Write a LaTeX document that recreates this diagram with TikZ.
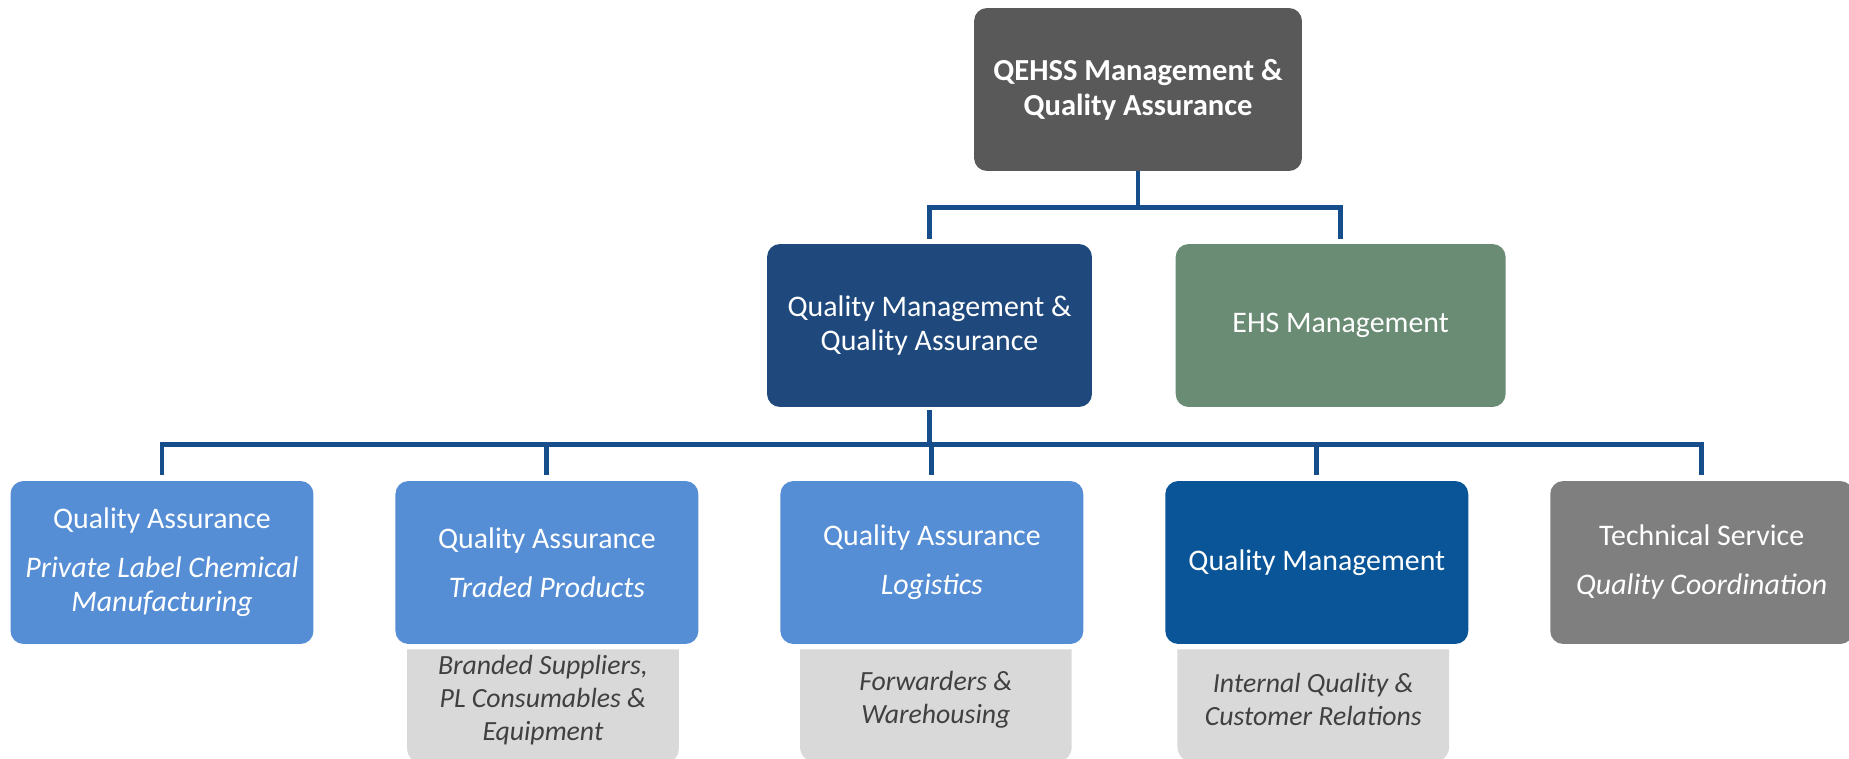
\documentclass[tikz,border=0pt]{standalone}
\usepackage{fontspec}
\setmainfont{Carlito}
\usetikzlibrary{positioning,backgrounds}

\definecolor{headgrey}{HTML}{595959}
\definecolor{qmnavy}{HTML}{1F497D}
\definecolor{ehsgreen}{HTML}{6A8B74}
\definecolor{qablue}{HTML}{558ED5}
\definecolor{qmblue}{HTML}{095597}
\definecolor{tsgrey}{HTML}{7F7F7F}
\definecolor{subgrey}{HTML}{D9D9D9}
\definecolor{subtext}{HTML}{404040}
\definecolor{linkblue}{HTML}{154E8A}

\begin{document}
\begin{tikzpicture}[x=0.02cm, y=-0.02cm, node distance=1.626cm,
    box/.style={rectangle, rounded corners=0.26cm, text=white, align=center,
      minimum width=6.06cm, minimum height=3.26cm, font=\fontsize{17}{19.4}\selectfont},
    midbox/.style={box, minimum width=6.5cm},
    sub/.style={rectangle, align=center, text=subtext, minimum width=5.42cm,
      minimum height=2cm, font=\fontsize{15.8}{18.8}\selectfont\itshape},
    link/.style={draw=linkblue, line width=2.8pt}]
  \useasboundingbox (0,0) rectangle (1849,758);
  \clip (0,0) rectangle (1849,758);

  \node[box, minimum width=6.56cm, fill=headgrey, font=\fontsize{17.4}{20}\selectfont\bfseries] (qehss) at (1138,89.5) {QEHSS Management \&\\ Quality Assurance};
  \node[midbox, fill=qmnavy] (qmqa) at (929.5,325.5) {Quality Management \&\\ Quality Assurance};
  \node[midbox, minimum width=6.6cm, fill=ehsgreen, right=1.66cm of qmqa] (ehs) {EHS Management};

  \node[box, fill=qablue] (qapl) at (162,562.5) {Quality Assurance\\[8.5pt] \textit{Private Label Chemical}\\ \textit{Manufacturing}};
  \node[box, fill=qablue, right=of qapl] (qatp) {Quality Assurance\\[8.5pt] \textit{Traded Products}};
  \node[box, fill=qablue, right=of qatp] (qalog) {Quality Assurance\\[8.5pt] \textit{Logistics}};
  \node[box, fill=qmblue, right=of qalog] (qm) {Quality Management};
  \node[box, fill=tsgrey, right=of qm] (ts) {Technical Service\\[8.5pt] \textit{Quality Coordination}};

  \node[sub, below=0.1cm of qatp, xshift=-0.08cm] (qatpsub) {Branded Suppliers,\\ PL Consumables \&\\ Equipment};
  \node[sub, below=0.1cm of qalog, xshift=0.08cm] (qalogsub) {Forwarders \&\\ Warehousing};
  \node[sub, below=0.1cm of qm, xshift=-0.07cm] (qmsub) {Internal Quality \&\\ Customer Relations};

  \begin{scope}[on background layer]
    \foreach \s in {qatpsub, qalogsub, qmsub}
      \fill[subgrey] (\s.north) -- (\s.north east) [rounded corners=0.3cm] -- ([yshift=-0.24cm]\s.south east) -- ([yshift=-0.24cm]\s.south west) [sharp corners] -- (\s.north west) -- cycle;
  \end{scope}

  % first level
  \draw[link] (qehss.south) -- ++(0,36) coordinate (tbus);
  \draw[link, shorten >=0.1cm] (tbus) -| (qmqa.north);
  \draw[link, shorten >=0.1cm] (tbus) -| (ehs.north);
  % second level
  \draw[link, shorten <=0.05cm] (qmqa.south) -- ++(0,37) coordinate (bus);
  \foreach \b in {qapl, qatp, qalog, qm, ts}
    \draw[link, shorten >=0.12cm] (bus) -| (\b.north);
\end{tikzpicture}
\end{document}
